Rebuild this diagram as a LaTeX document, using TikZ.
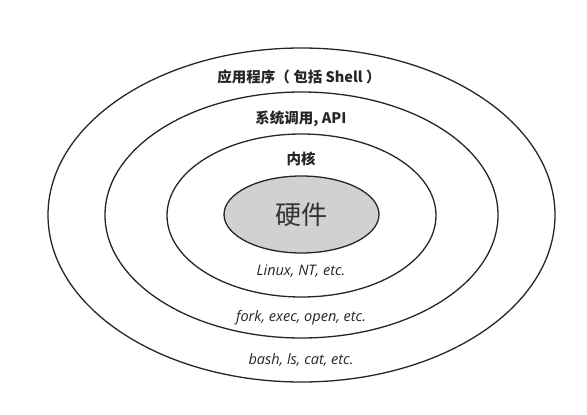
\documentclass[tikz,border=0pt]{standalone}
\usepackage{fontspec}
\setmainfont{Open Sans}
\newfontfamily\cjk{Noto Sans CJK SC}
\tikzset{
  ring/.style={draw=black!85, line width=1.3pt},
  core/.style={draw=black!85, line width=1.3pt, fill=black!18},
  lbl/.style={font=\cjk\bfseries\fontsize{14.5}{17}\selectfont, text=black!85},
  eg/.style={font=\itshape\fontsize{14.5}{17}\selectfont, text=black!85},
}
\begin{document}
\begin{tikzpicture}[x=1pt,y=-1pt]
\useasboundingbox (0,0) rectangle (587,415);
\fill[white] (0,0) rectangle (587,415);
\draw[ring] (301.5,215) ellipse [x radius=253.5, y radius=167];
\draw[ring] (301.5,215) ellipse [x radius=196.5, y radius=123];
\draw[ring] (301.5,215.5) ellipse [x radius=134.5, y radius=81.5];
\draw[core] (301.5,214.5) ellipse [x radius=77.5, y radius=38.5];
\node[lbl] (app) at (299,76.5) {应用程序（ 包括 Shell ）};
\node[lbl] (sys) at (301,118.5) {系统调用, API};
\node[lbl] (ker) at (301,158.5) {内核};
\node[font=\cjk\fontsize{26}{30}\selectfont, text=black!80] (hw) at (301,215) {硬件};
\node[eg] (k) at (301,271.5) {Linux, NT, etc.};
\node[eg] (s) at (301,317.5) {fork, exec, open, etc.};
\node[eg] (a) at (301,359.5) {bash, ls, cat, etc.};
\end{tikzpicture}
\end{document}
